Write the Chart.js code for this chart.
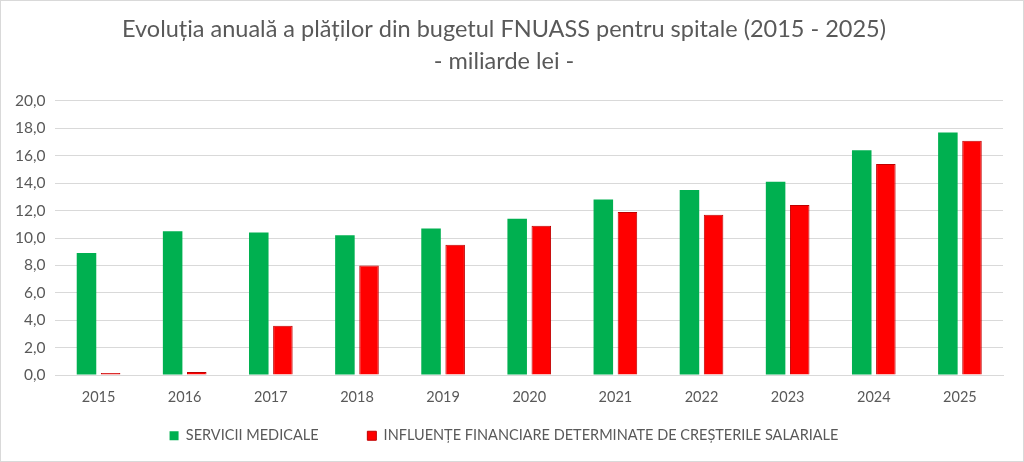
<!DOCTYPE html>
<html>
<head>
<meta charset="utf-8">
<script src="https://cdn.jsdelivr.net/npm/chart.js@4.4.1/dist/chart.umd.min.js"></script>
<style>
  html, body { margin: 0; padding: 0; background: #fff; }
  #wrap { width: 1022px; height: 460px; border: 1px solid #d9d9d9; }
</style>
</head>
<body>
<div id="wrap"><canvas id="spitaleChart" width="1022" height="460"></canvas></div>
<script>
const ani = ['2015', '2016', '2017', '2018', '2019', '2020', '2021', '2022', '2023', '2024', '2025'];
const serviciiMedicale = [8.9, 10.5, 10.4, 10.2, 10.7, 11.4, 12.8, 13.5, 14.1, 16.4, 17.7];
const influenteSalariale = [0.15, 0.22, 3.6, 8.0, 9.5, 10.9, 11.9, 11.7, 12.4, 15.4, 17.1];
const titlu = ['Evoluția anuală a plăților din bugetul FNUASS pentru spitale (2015 - 2025)', '- miliarde lei -'];

const gri = '#595959';
const ctx = document.getElementById('spitaleChart').getContext('2d');

new Chart(ctx, {
    type: 'bar',
    data: {
        labels: ani,
        datasets: [{
            label: 'SERVICII MEDICALE',
            data: serviciiMedicale,
            backgroundColor: '#00b050',
            borderWidth: 0
        }, {
            label: 'INFLUENȚE FINANCIARE DETERMINATE DE CREȘTERILE SALARIALE',
            data: influenteSalariale,
            backgroundColor: '#ff0000',
            borderColor: '#c00000',
            borderWidth: 1
        }]
    },
    options: {
        responsive: false,
        animation: false,
        layout: { padding: { left: 4, right: 20, top: 8, bottom: 8 } },
        datasets: {
            bar: { categoryPercentage: 0.56, barPercentage: 0.81 }
        },
        plugins: {
            title: {
                display: true,
                text: titlu,
                color: gri,
                font: { family: 'Lato', size: 23.5, weight: 'normal', lineHeight: 1.36 },
                padding: { top: 4, bottom: 24 }
            },
            legend: {
                position: 'bottom',
                labels: {
                    color: gri,
                    font: { family: 'Lato', size: 14.5 },
                    boxWidth: 9,
                    boxHeight: 9,
                    padding: 8,
                    generateLabels: function(chart) {
                        const items = Chart.defaults.plugins.legend.labels.generateLabels(chart);
                        items[0].text = items[0].text + '\u00a0'.repeat(11);
                        return items;
                    }
                }
            },
            tooltip: { enabled: false }
        },
        scales: {
            x: {
                grid: { display: false, drawTicks: false },
                border: { color: '#d9d9d9' },
                ticks: { color: gri, font: { family: 'Lato', size: 14.5 }, padding: 14 }
            },
            y: {
                min: 0,
                max: 20,
                ticks: {
                    stepSize: 2,
                    color: gri,
                    font: { family: 'Lato', size: 15.5 },
                    padding: 10,
                    callback: function(v) { return v.toFixed(1).replace('.', ','); }
                },
                grid: { color: '#d9d9d9', drawTicks: false },
                border: { display: false }
            }
        }
    }
});
</script>
</body>
</html>
